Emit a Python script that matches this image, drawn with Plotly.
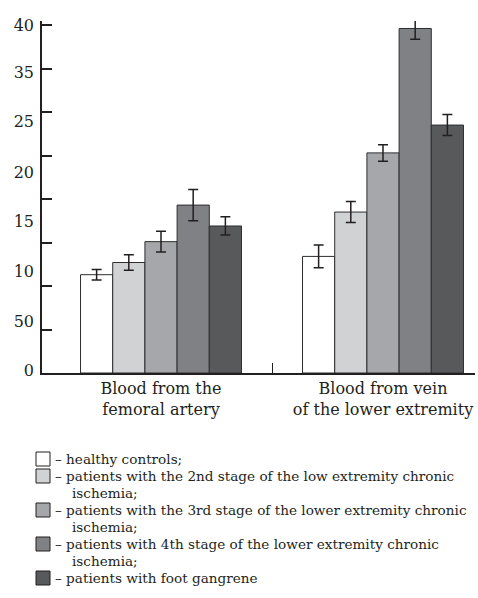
import plotly.graph_objects as go

# ---------------- data ----------------
categories = ["Blood from the<br>femoral artery", "Blood from vein<br>of the lower extremity"]

healthy = [11.3, 13.4]
stage2 = [12.7, 18.5]
stage3 = [15.1, 25.3]
stage4 = [19.3, 39.6]
gangrene = [16.9, 28.5]

err_healthy = [0.6, 1.3]
err_stage2 = [0.9, 1.2]
err_stage3 = [1.2, 0.95]
err_stage4 = [1.8, 1.25]
err_gangrene = [1.05, 1.2]

series_names = [
    "healthy controls",
    "patients with the 2nd stage of the low extremity chronic ischemia",
    "patients with the 3rd stage of the lower extremity chronic ischemia",
    "patients with 4th stage of the lower extremity chronic ischemia",
    "patients with foot gangrene",
]

ytick_values = [0, 5, 10, 15, 20, 25, 30, 35, 40]
ylabel_text = ["0", "50", "10", "15", "20", "25", "35", "40"]

legend_lines = [
    ["– healthy controls;"],
    ["– patients with the 2nd stage of the low extremity chronic", "ischemia;"],
    ["– patients with the 3rd stage of the lower extremity chronic", "ischemia;"],
    ["– patients with 4th stage of the lower extremity chronic", "ischemia;"],
    ["– patients with foot gangrene"],
]

# ---------------- style ----------------
colors = ["#ffffff", "#d1d2d4", "#a6a7aa", "#808184", "#58595b"]
ink = "#231f20"
serif = "DejaVu Serif"

W, H = 478, 598
L, R, T, B = 42, 475, 21, 373          # plot area in pixels
ylabel_pos = [0.35, 5.9, 11.7, 17.4, 23.1, 28.9, 34.6, 40.0]  # where the label texts sit
Y_TOP = (B - T) / 8.7


def px_x(p):
    return (p - L) / (R - L)


def px_y(p):
    return (B - p) / (B - T)


series = [healthy, stage2, stage3, stage4, gangrene]
errors = [err_healthy, err_stage2, err_stage3, err_stage4, err_gangrene]

fig = go.Figure()
for name, vals, errs, col in zip(series_names, series, errors, colors):
    fig.add_trace(go.Bar(
        x=categories, y=vals, name=name,
        marker=dict(color=col, line=dict(color="#2e2e30", width=1)),
        error_y=dict(type="data", array=errs, visible=True, color=ink, thickness=1.5, width=5),
        showlegend=False,
    ))

# dummy traces so the overlay axes are drawn
fig.add_trace(go.Scatter(x=[None], y=[None], yaxis="y2", showlegend=False, hoverinfo="skip"))
fig.add_trace(go.Scatter(x=[None], y=[None], xaxis="x2", showlegend=False, hoverinfo="skip"))

x_range = [-(161 - L) / 222, 1 + (R - 383) / 222]

fig.update_layout(
    width=W, height=H,
    margin=dict(l=L, r=W - R, t=T, b=H - B, pad=0),
    paper_bgcolor="white", plot_bgcolor="white",
    barmode="group", bargap=0.275, bargroupgap=0,
    font=dict(family=serif, color=ink),
    xaxis=dict(
        type="category", range=x_range,
        showline=True, linecolor=ink, linewidth=2,
        ticks="", showgrid=False, zeroline=False,
        tickfont=dict(family=serif, size=16, color=ink),
    ),
    xaxis2=dict(
        overlaying="x", anchor="y", range=x_range, type="linear",
        tickmode="array", tickvals=[0.5], showticklabels=False,
        ticks="inside", ticklen=10, tickwidth=1.2, tickcolor=ink,
        showline=False, showgrid=False, zeroline=False,
    ),
    yaxis=dict(
        range=[0, Y_TOP],
        showline=True, linecolor=ink, linewidth=2,
        tickmode="array", tickvals=ytick_values, showticklabels=False,
        ticks="inside", ticklen=10, tickwidth=1.5, tickcolor=ink,
        showgrid=False, zeroline=False,
    ),
    yaxis2=dict(
        overlaying="y", anchor="x", side="left", range=[0, Y_TOP],
        tickmode="array", tickvals=ylabel_pos, ticktext=ylabel_text,
        ticks="", showline=False, showgrid=False, zeroline=False,
        tickfont=dict(family=serif, size=16, color=ink),
        ticklabelstandoff=7,
    ),
)

# ---------------- legend (drawn below the chart) ----------------
row_y = 459
step = 17
for lines, col in zip(legend_lines, colors):
    fig.add_shape(
        type="rect", xref="paper", yref="paper",
        x0=px_x(36), x1=px_x(50), y0=px_y(row_y + 7), y1=px_y(row_y - 7),
        fillcolor=col, line=dict(color=ink, width=1),
    )
    for i, txt in enumerate(lines):
        fig.add_annotation(
            xref="paper", yref="paper",
            x=px_x(53 if i == 0 else 70), y=px_y(row_y),
            text=txt, showarrow=False, xanchor="left", yanchor="middle",
            font=dict(family=serif, size=13.6, color=ink),
        )
        row_y += step

fig.write_html("out.html")
